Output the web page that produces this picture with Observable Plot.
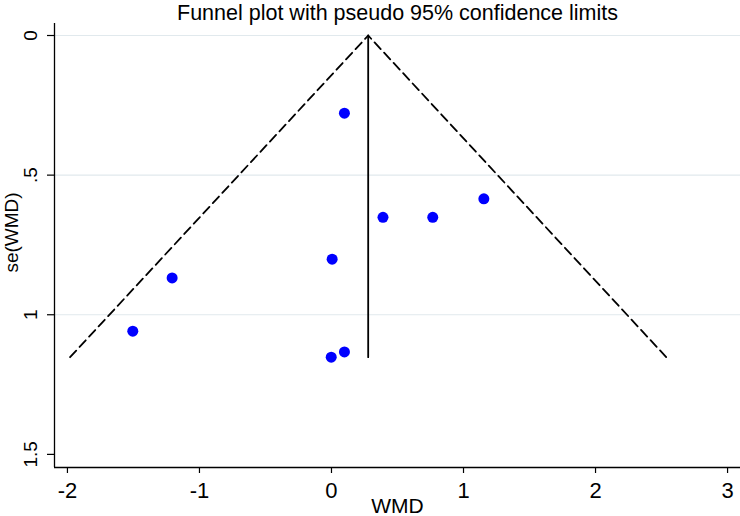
<!DOCTYPE html>
<html>
<head>
<meta charset="utf-8">
<script src="https://cdn.jsdelivr.net/npm/d3@7"></script>
<script src="https://cdn.jsdelivr.net/npm/@observablehq/plot@0.6"></script>
<style>
  html, body { margin: 0; padding: 0; background: #fff; }
  #chart svg { display: block; }
</style>
</head>
<body>
<div id="chart"></div>
<script>
// Study estimates (WMD) and their standard errors
const wmd   = [0.098, 0.390, 0.767, 1.154, 0.005, -1.207, -1.505, -0.002, 0.098];
const seWmd = [0.278, 0.651, 0.651, 0.585, 0.801, 0.868, 1.059, 1.152, 1.133];

// Pooled effect line and pseudo 95% confidence limits
const pooledX = [0.278, 0.278];
const pooledY = [0, 1.152];
const funnelX = [-1.980, 0.278, 2.536];
const funnelY = [1.152, 0, 1.152];

// Axes
const xTicks = [-2, -1, 0, 1, 2, 3];
const yTicks = [0, 0.5, 1, 1.5];
const yTickLabels = ["0", ".5", "1", "1.5"];
const gridTicks = [0, 0.5, 1];
const xDomain = [-2.098, 3.098];
const yDomain = [-0.043, 1.547];

const title = "Funnel plot with pseudo 95% confidence limits";
const xLabel = "WMD";
const yLabel = "se(WMD)";

const points = wmd.map((x, i) => ({x, y: seWmd[i]}));
const pooled = pooledX.map((x, i) => ({x, y: pooledY[i]}));
const funnel = funnelX.map((x, i) => ({x, y: funnelY[i]}));

const chart = Plot.plot({
  width: 740,
  height: 516,
  marginLeft: 54,
  marginRight: 0,
  marginTop: 23,
  marginBottom: 49,
  style: {fontFamily: "'Liberation Sans', Arial, sans-serif", background: "#fff", color: "#000"},
  x: {domain: xDomain, axis: null},
  y: {domain: yDomain, reverse: true, axis: null},
  marks: [
    Plot.gridY(gridTicks, {stroke: "#e1e9ed", strokeOpacity: 1, strokeWidth: 1.2}),
    Plot.axisX({ticks: xTicks, tickSize: 6, tickFormat: () => "", label: null, strokeWidth: 1.2}),
    Plot.axisY({ticks: yTicks, tickSize: 7, tickFormat: () => "", label: null, strokeWidth: 1.2}),
    Plot.ruleX([xDomain[0]], {stroke: "#000", strokeWidth: 1.3}),
    Plot.ruleY([yDomain[1]], {stroke: "#000", strokeWidth: 1.3}),
    Plot.text(xTicks, {x: d => d, text: d => String(d), frameAnchor: "bottom", dy: 23, lineAnchor: "middle", fontSize: 22, fill: "#000"}),
    Plot.text(yTicks, {y: d => d, text: (d, i) => yTickLabels[i], frameAnchor: "left", dx: -24, rotate: -90, textAnchor: "middle", lineAnchor: "middle", fontSize: 19, fill: "#000"}),
    Plot.line(funnel, {x: "x", y: "y", stroke: "#000", strokeWidth: 1.8, strokeDasharray: "9,5"}),
    Plot.line(pooled, {x: "x", y: "y", stroke: "#000", strokeWidth: 1.8}),
    Plot.dot(points, {x: "x", y: "y", r: 5.5, fill: "#0000ff", stroke: "none"}),
    Plot.text([title], {text: d => d, frameAnchor: "top", dy: -4, lineAnchor: "bottom", fontSize: 21.5, fill: "#000"}),
    Plot.text([xLabel], {text: d => d, frameAnchor: "bottom", dy: 45, lineAnchor: "bottom", fontSize: 21, fill: "#000"}),
    Plot.text([yLabel], {text: d => d, frameAnchor: "left", dx: -43, dy: -13, rotate: -90, textAnchor: "middle", lineAnchor: "middle", fontSize: 19, fill: "#000"})
  ]
});
document.getElementById("chart").appendChild(chart);
</script>
</body>
</html>
